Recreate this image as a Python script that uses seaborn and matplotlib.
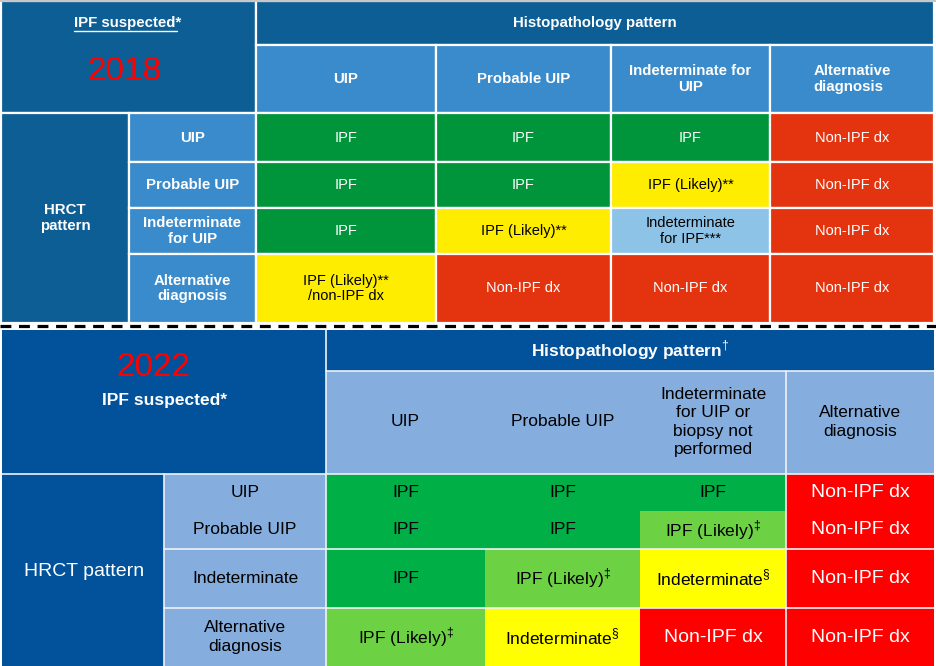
import matplotlib
matplotlib.use("Agg")
import matplotlib.pyplot as plt
from matplotlib.patches import Rectangle
import seaborn as sns

# ---- table content -------------------------------------------------------
hist_cols_2018 = ["UIP", "Probable UIP", "Indeterminate for\nUIP", "Alternative\ndiagnosis"]
hrct_rows_2018 = ["UIP", "Probable UIP", "Indeterminate\nfor UIP", "Alternative\ndiagnosis"]
dx_2018 = [
    ["IPF", "IPF", "IPF", "Non-IPF dx"],
    ["IPF", "IPF", "IPF (Likely)**", "Non-IPF dx"],
    ["IPF", "IPF (Likely)**", "Indeterminate\nfor IPF***", "Non-IPF dx"],
    ["IPF (Likely)**\n/non-IPF dx", "Non-IPF dx", "Non-IPF dx", "Non-IPF dx"],
]
# 0 = IPF, 1 = likely IPF, 2 = indeterminate, 3 = non-IPF
grade_2018 = [
    [0, 0, 0, 3],
    [0, 0, 1, 3],
    [0, 1, 2, 3],
    [1, 3, 3, 3],
]

hist_cols_2022 = ["UIP", "Probable UIP", "Indeterminate\nfor UIP or\nbiopsy not\nperformed",
                  "Alternative\ndiagnosis"]
hrct_rows_2022 = ["UIP", "Probable UIP", "Indeterminate", "Alternative\ndiagnosis"]
dx_2022 = [
    ["IPF", "IPF", "IPF", "Non-IPF dx"],
    ["IPF", "IPF", r"IPF (Likely)$^{\ddag}$", "Non-IPF dx"],
    ["IPF", r"IPF (Likely)$^{\ddag}$", r"Indeterminate$^{\S}$", "Non-IPF dx"],
    [r"IPF (Likely)$^{\ddag}$", r"Indeterminate$^{\S}$", "Non-IPF dx", "Non-IPF dx"],
]
grade_2022 = [
    [0, 0, 0, 3],
    [0, 0, 1, 3],
    [0, 1, 2, 3],
    [1, 2, 3, 3],
]

# ---- layout (pixels) ------------------------------------------------------
X18 = [256, 436, 611, 770, 934]
Y18 = [113, 162, 208, 254, 323]
X22 = [326, 485, 640, 786, 934]
Y22 = [474, 511, 549, 608, 666]

pal_2018 = sns.color_palette(["#00953A", "#FFED00", "#8EC3E8", "#E4340F"])
pal_2022 = sns.color_palette(["#00AF46", "#6CD244", "#FFFF00", "#FF0000"])
dark18, mid18 = "#0C5E95", "#3A8BCB"
dark22, light22 = "#02529B", "#85ADDD"

sns.set_theme(style="white")
plt.rcParams['font.family'] = ['Liberation Sans', 'DejaVu Sans']
plt.rcParams['mathtext.fontset'] = 'custom'
plt.rcParams['mathtext.rm'] = 'Liberation Sans'

fig = plt.figure(figsize=(9.36, 6.66), dpi=100)
ax = fig.add_axes([0, 0, 1, 1])
ax.set_xlim(0, 936)
ax.set_ylim(666, 0)
ax.axis("off")


def box(x0, y0, x1, y1, color, edge=True):
    ax.add_patch(Rectangle((x0, y0), x1 - x0, y1 - y0, facecolor=color,
                           edgecolor="white" if edge else "none", lw=1.6))


def label(x, y, s, size, color="white", bold=False, ls=1.15, **kw):
    return ax.text(x, y, s, ha="center", va="center", fontsize=size, color=color,
                   fontweight="bold" if bold else "normal", linespacing=ls, **kw)


ax.axhline(0.5, color="#C8C8C8", lw=1.5)

# ---- 2018 table -----------------------------------------------------------
box(1, 1, X18[0], Y18[0], dark18)
box(X18[0], 1, X18[-1], 45, dark18)
box(1, Y18[0], 129, Y18[-1], dark18)
t = label(128, 23, "IPF suspected*", 10.8, bold=True)
label(124, 71, "2018", 24, color="#FF0000")
label((X18[0] + X18[-1]) / 2, 23, "Histopathology pattern", 10.8, bold=True)
label(65, (Y18[0] + Y18[-1]) / 2, "HRCT\npattern", 10.8, bold=True)

for j, name in enumerate(hist_cols_2018):
    box(X18[j], 45, X18[j + 1], Y18[0], mid18)
    label((X18[j] + X18[j + 1]) / 2, 79, name, 10.8, bold=True,
          multialignment="left" if j == 3 else "center")
for i, name in enumerate(hrct_rows_2018):
    box(129, Y18[i], X18[0], Y18[i + 1], mid18)
    label((129 + X18[0]) / 2, (Y18[i] + Y18[i + 1]) / 2, name, 10.8, bold=True)
    for j in range(4):
        g = grade_2018[i][j]
        box(X18[j], Y18[i], X18[j + 1], Y18[i + 1], pal_2018[g])
        label((X18[j] + X18[j + 1]) / 2, (Y18[i] + Y18[i + 1]) / 2, dx_2018[i][j], 10.5,
              color="white" if g in (0, 3) else "black")

# divider between the two guidelines
ax.plot([0, 936], [325.5, 325.5], color="black", lw=2.3, ls=(0, (3.4, 2.4)))

# ---- 2022 table -----------------------------------------------------------
box(2, 330, X22[0], Y22[0], dark22, edge=False)
box(X22[0], 330, X22[-1], 371, dark22, edge=False)
box(X22[0], 371, X22[-1], Y22[0], light22, edge=False)
box(2, Y22[0], 164, Y22[-1], dark22, edge=False)
label(153, 367, "2022", 24, color="#FF0000")
label(165, 401, "IPF suspected*", 12.5, bold=True)
label((X22[0] + X22[-1]) / 2, 350, r"Histopathology pattern$^{\dag}$", 12.5, bold=True)
label(84, 572, "HRCT pattern", 14)

for j, name in enumerate(hist_cols_2022):
    label((X22[j] + X22[j + 1]) / 2, 422, name, 12.5, color="black", ls=1.28)
for i, name in enumerate(hrct_rows_2022):
    box(164, Y22[i], X22[0], Y22[i + 1], light22, edge=False)
    label((164 + X22[0]) / 2, (Y22[i] + Y22[i + 1]) / 2, name, 12.5, color="black", ls=1.28)
    for j in range(4):
        g = grade_2022[i][j]
        box(X22[j], Y22[i], X22[j + 1], Y22[i + 1], pal_2022[g], edge=False)
        label((X22[j] + X22[j + 1]) / 2, (Y22[i] + Y22[i + 1]) / 2, dx_2022[i][j],
              14 if g == 3 else 12.5, color="white" if g == 3 else "black")

# thin white rules of the 2022 table
rule = dict(color="#EEF2F8", lw=1.2)
ax.plot([X22[0], X22[0]], [330, Y22[-1]], **rule)
ax.plot([X22[0], X22[-1]], [371, 371], **rule)
ax.plot([2, X22[-1]], [Y22[0], Y22[0]], **rule)
ax.plot([164, 164], [Y22[0], Y22[-1]], **rule)
ax.plot([X22[3], X22[3]], [371, Y22[-1]], **rule)
for yy in (Y22[2], Y22[3]):
    ax.plot([164, X22[-1]], [yy, yy], **rule)

# underline the 2018 "IPF suspected" heading
fig.canvas.draw()
bb = t.get_window_extent().transformed(ax.transData.inverted())
ax.plot([bb.x0, bb.x1 - 5], [bb.y0 + 1, bb.y0 + 1], color="white", lw=1)

fig.savefig("out.png", dpi=100)
